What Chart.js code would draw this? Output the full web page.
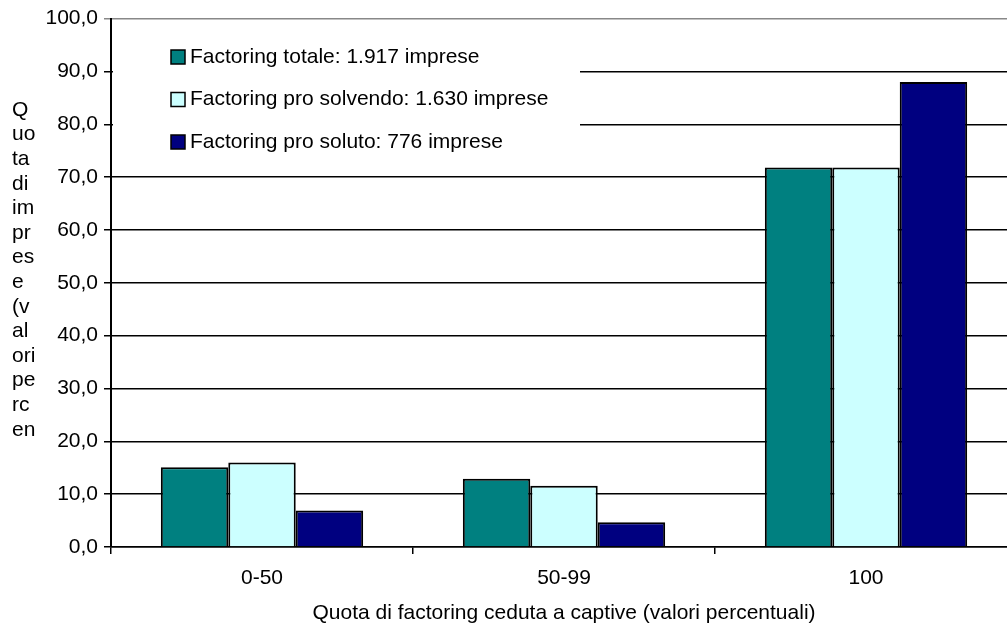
<!DOCTYPE html>
<html>
<head>
<meta charset="utf-8">
<script src="https://cdn.jsdelivr.net/npm/chart.js@4.4.1/dist/chart.umd.min.js"></script>
<style>
  html, body { margin: 0; padding: 0; background: #fff; overflow: hidden; }
  #wrap { width: 1020px; height: 626px; }
</style>
</head>
<body>
<div id="wrap"><canvas id="grafico"></canvas></div>
<script>
// categorie (quota ceduta a captive) e serie
const categorie = ['0-50', '50-99', '100'];
const factoringTotale = [15.1, 12.9, 71.8];
const factoringProSolvendo = [16.0, 11.6, 71.8];
const factoringProSoluto = [6.9, 4.7, 88.0];
const nomiSerie = [
  'Factoring totale: 1.917 imprese',
  'Factoring pro solvendo: 1.630 imprese',
  'Factoring pro soluto: 776 imprese'
];
const colori = ['#008080', '#CCFFFF', '#000080'];
const titoloX = 'Quota di factoring ceduta a captive (valori percentuali)';
// titolo asse y, spezzato come nell'originale
const titoloY = ['Q', 'uo', 'ta', 'di', 'im', 'pr', 'es', 'e', '(v', 'al', 'ori', 'pe', 'rc', 'en'];

const FONT = 'Liberation Sans, Arial, sans-serif';
const DIM = 21;

// titolo verticale a sinistra
const titoloYPlugin = {
  id: 'titoloY',
  afterDraw(chart) {
    const ctx = chart.ctx;
    ctx.save();
    ctx.fillStyle = '#000';
    ctx.font = DIM + 'px ' + FONT;
    ctx.textAlign = 'left';
    ctx.textBaseline = 'middle';
    titoloY.forEach((riga, i) => ctx.fillText(riga, 12, 110 + i * 24.6));
    ctx.restore();
  }
};

// legenda dentro l'area del grafico, con fondo bianco
const legendaPlugin = {
  id: 'legendaInterna',
  afterDraw(chart) {
    const ctx = chart.ctx;
    const area = chart.chartArea;
    ctx.save();
    ctx.fillStyle = '#fff';
    ctx.fillRect(area.left + 2, area.top + 8, 467, 142);
    ctx.font = DIM + 'px ' + FONT;
    ctx.textBaseline = 'middle';
    chart.data.datasets.forEach((ds, i) => {
      const y = 57 + i * 42.5;
      ctx.fillStyle = ds.backgroundColor;
      ctx.fillRect(171, y - 7, 14, 14);
      ctx.strokeStyle = '#000';
      ctx.lineWidth = 1.5;
      ctx.strokeRect(171, y - 7, 14, 14);
      ctx.fillStyle = '#000';
      ctx.fillText(ds.label, 190, y);
    });
    ctx.restore();
  }
};

const serie = [factoringTotale, factoringProSolvendo, factoringProSoluto];

new Chart(document.getElementById('grafico'), {
  type: 'bar',
  data: {
    labels: categorie,
    datasets: serie.map((valori, i) => ({
      label: nomiSerie[i],
      data: valori,
      backgroundColor: colori[i],
      borderColor: '#000',
      borderWidth: 2,
      categoryPercentage: 0.67,
      barPercentage: 1.0
    }))
  },
  options: {
    responsive: true,
    maintainAspectRatio: false,
    animation: false,
    layout: { padding: { top: 16, right: 3, left: 0, bottom: 0 } },
    plugins: {
      legend: { display: false },
      tooltip: { enabled: false }
    },
    scales: {
      x: {
        afterFit(scale) { scale.height = 79; },
        grid: {
          display: true,
          drawOnChartArea: false,
          offset: true,
          color: '#000',
          lineWidth: 1.5,
          tickLength: 7
        },
        border: { color: '#000', width: 1.5 },
        ticks: { color: '#000', font: { family: FONT, size: DIM }, padding: 12 },
        title: {
          display: true,
          text: titoloX,
          color: '#000',
          font: { family: FONT, size: DIM },
          padding: { top: 10, bottom: 0 }
        }
      },
      y: {
        min: 0,
        max: 100,
        afterFit(scale) { scale.width = 111; },
        grid: {
          color: ctx => ctx.tick && ctx.tick.value === 100 ? '#888' : '#000',
          lineWidth: 1.5,
          tickLength: 7
        },
        border: { color: '#000', width: 2 },
        ticks: {
          stepSize: 10,
          color: '#000',
          padding: 6,
          font: { family: FONT, size: DIM },
          callback: v => v.toFixed(1).replace('.', ',')
        }
      }
    }
  },
  plugins: [titoloYPlugin, legendaPlugin]
});
</script>
</body>
</html>
